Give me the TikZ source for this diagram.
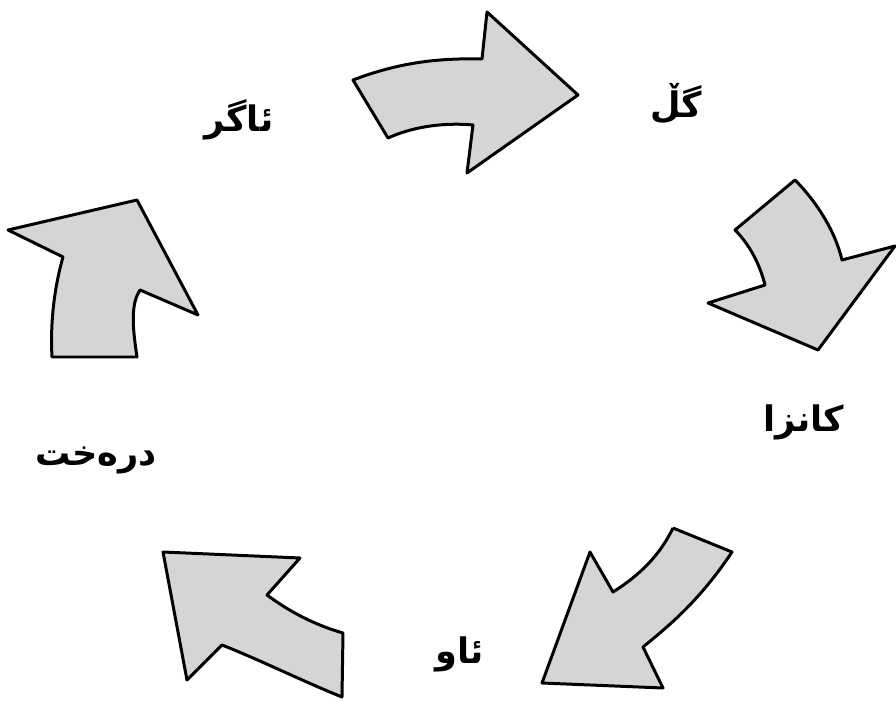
\documentclass[tikz,border=0pt]{standalone}
\usepackage{fontspec}
\newfontfamily\arabicfont[Script=Arabic]{DejaVu Sans}
\TeXXeTstate=1
\usepackage{tikz}
\usetikzlibrary{positioning}
\usepackage{xcolor}
\definecolor{arrowgray}{RGB}{214,213,214}

\begin{document}
\begin{tikzpicture}[
    x=0.02cm, y=-0.02cm,
    bigarrow/.style={draw=black, fill=arrowgray, line width=1.7pt, line join=round},
    label/.style={font=\arabicfont\bfseries\fontsize{20}{24}\selectfont, inner sep=0pt}
]
\useasboundingbox (0,0) rectangle (896,702);

% Arrows
\path[bigarrow] (353,80) .. controls (400,62) and (440,58) .. (482,59)
    -- (487,12) -- (578,95) -- (467,173) -- (473,125)
    .. controls (440,122) and (410,128) .. (388,138) -- cycle;
\path[bigarrow] (795,180) .. controls (815,200) and (835,230) .. (842,260)
    -- (895,246) -- (818,350) -- (708,303) -- (765,285)
    .. controls (760,265) and (750,245) .. (735,230) -- cycle;
\path[bigarrow] (673,528) -- (732,552)
    .. controls (700,600) and (670,625) .. (643,647)
    -- (663,688) -- (542,683) -- (590,552) -- (613,592)
    .. controls (640,575) and (660,555) .. (673,528);
\path[bigarrow] (163,552) -- (300,558) -- (267,595)
    .. controls (290,612) and (315,625) .. (343,633)
    -- (342,697) .. controls (300,680) and (260,660) .. (222,645)
    -- (187,680) -- cycle;
\path[bigarrow] (8,230) -- (137,200) -- (198,315) -- (140,290)
    .. controls (130,305) and (133,330) .. (137,357)
    -- (52,357) .. controls (50,320) and (55,285) .. (63,257) -- cycle;

% Labels
\node[label] (fire) at (239,120) {\beginR ئاگر\endR};
\node[label] (earth) at (676,104) {\beginR گڵ\endR};
\node[label] (metal) at (804,422) {\beginR کانزا\endR};
\node[label] (water) at (460,654) {\beginR ئاو\endR};
\node[label] (wood) at (96,460) {\beginR درەخت\endR};

\end{tikzpicture}
\end{document}
